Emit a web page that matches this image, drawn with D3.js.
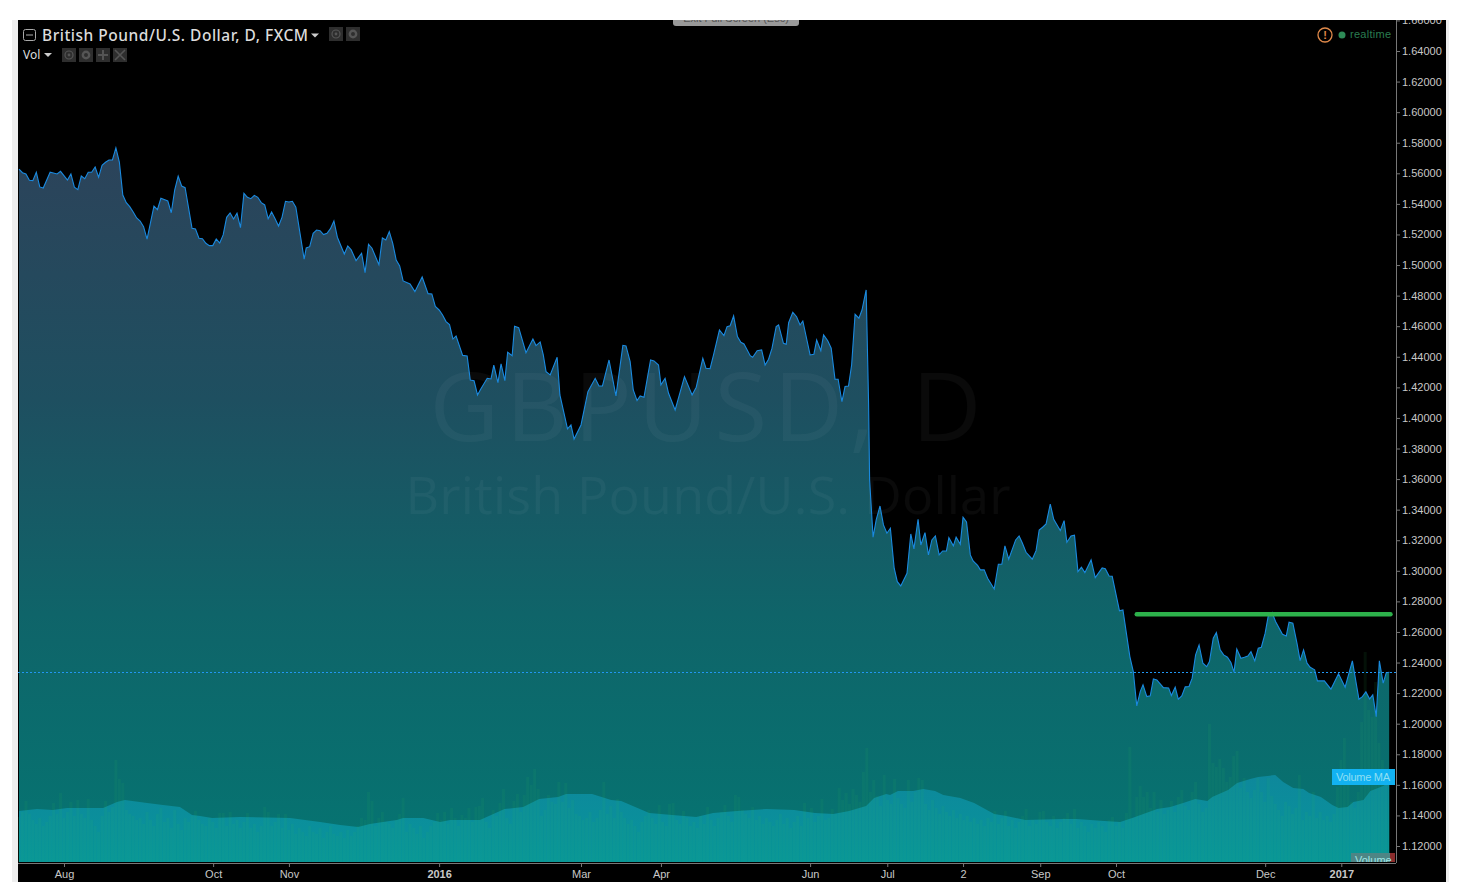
<!DOCTYPE html>
<html>
<head>
<meta charset="utf-8">
<script src="https://cdn.jsdelivr.net/npm/d3@7"></script>
<style>
  html, body { margin: 0; background: #fff; overflow: hidden; }
  svg { display: block; }
  .axis text { font-family: "Liberation Sans", Arial, sans-serif; font-size: 11px; fill: #c8c8c8; }
  .axis .tick line, .axis .domain { stroke: #777; }
  .header { font-family: "Noto Sans", sans-serif; fill: #dcdcdc; }
</style>
</head>
<body>
<svg width="1462" height="896"></svg>
<script>
const titleText = 'British Pound/U.S. Dollar, D, FXCM';
const watermarkText = 'GBPUSD, D';
const watermarkSubText = 'British Pound/U.S. Dollar';

// price tick labels on the right
const priceTicks = [1.12, 1.14, 1.16, 1.18, 1.20, 1.22, 1.24, 1.26, 1.28, 1.30, 1.32, 1.34, 1.36, 1.38,
  1.40, 1.42, 1.44, 1.46, 1.48, 1.50, 1.52, 1.54, 1.56, 1.58, 1.60, 1.62, 1.64, 1.66];

// time axis, position counted in daily bars
const timeTickBars = [13, 56.1, 78, 121.4, 162.4, 185.5, 228.6, 250.9, 272.8, 295.1, 317, 360.1, 382.1];
const timeTickLabels = ['Aug', 'Oct', 'Nov', '2016', 'Mar', 'Apr', 'Jun', 'Jul', '2', 'Sep', 'Oct', 'Dec', '2017'];
const boldTimeLabels = ['2016', '2017'];

// closes: bar position and price
const priceBars = [0, 1, 2, 3, 4, 5, 6, 7, 9, 11, 12, 14, 15, 16, 17, 18, 19, 20, 21, 22, 23, 24, 25, 26, 27, 28, 29, 30, 31, 32,
  33, 34, 35, 36, 37, 39, 40, 41, 43, 44, 45, 46, 47, 48, 50, 51, 52, 53, 54, 55, 56, 57, 58, 59, 60, 61, 62, 63, 64, 65,
  66, 67, 68, 69, 70, 71, 72, 73, 74, 75, 76, 77, 78, 79, 80, 82.4, 83, 84, 85, 86, 87, 88, 89, 90, 91, 92, 94, 95, 96, 97.4,
  99, 100, 101, 102, 104, 105, 106, 107, 108, 109, 110, 111, 113, 114.4, 116.5, 118.2, 119.3, 120.3, 121.4, 122.4, 123.4, 124.4, 125.4, 126.3, 128.2, 129.5, 130.4, 131.5, 132.5, 133.4,
  135.3, 136.4, 137.2, 138.4, 139.3, 140.4, 141.2, 142.5, 143.2, 144.4, 146.5, 148.5, 149.4, 150.6, 151.5, 152.3, 153.5, 155.5, 156.3, 158.5, 159.5, 160.4, 162.4, 164.4, 166.5, 167.6, 168.6, 170.5, 172.5, 174.5,
  175.4, 176.6, 177.5, 178.6, 179.5, 180.6, 182.5, 183.5, 184.8, 185.5, 186.7, 187.7, 189.6, 192.3, 194.5, 195.7, 197.6, 198.5, 199.7, 200.7, 202.4, 203.7, 204.6, 205.5, 206.5, 207.6, 208.6, 209.5, 211.3, 212,
  213.3, 214.6, 215.6, 216.6, 217.6, 218.8, 219.5, 220.9, 221.7, 222.4, 223.6, 224.7, 225.7, 226.5, 228.6, 229.7, 230.5, 231.7, 232.5, 233.7, 234.7, 235.8, 236.7, 237.8, 238.7, 239.7, 240.6, 241.6, 242.7, 243.6,
  244.8, 245.5, 245.8, 246.8, 247.7, 248.8, 249.8, 250.8, 251.8, 252.9, 253.8, 254.8, 256.6, 257.7, 258.6, 259.8, 260.6, 261.8, 262.8, 263.8, 264.8, 265.9, 266.9, 268, 268.7, 270, 270.8, 272, 272.8, 273.8,
  274.9, 275.7, 277, 277.8, 278.9, 279.9, 281.8, 283, 284, 284.9, 286, 288, 289, 289.9, 291, 292.8, 293.9, 294.8, 295.8, 296.8, 298, 299, 300.9, 302, 302.8, 304, 305, 306, 307, 308,
  309.8, 311, 313, 313.9, 315, 315.9, 318, 319, 321, 322, 323, 324, 324.8, 325.9, 326.9, 327.8, 328.8, 330.7, 332.2, 333, 334.1, 335, 336, 337, 338.1, 339, 340, 341, 342.1, 343.2,
  344, 345.1, 346, 347.1, 348.1, 349.2, 350.2, 351.1, 351.9, 353.1, 354.1, 355.1, 356, 357.1, 358.1, 359, 360.1, 361, 362.1, 363.1, 365.1, 366.2, 367, 368.1, 369.3, 370.2, 371.2, 372.2, 373.1, 374.4,
  375.2, 377.2, 379.1, 381.3, 383.2, 385.3, 387.2, 388.2, 389.2, 390.3, 391.2, 392.2, 393.1, 394.2, 395.1, 396];
const priceValues = [1.5628, 1.5604, 1.5596, 1.5554, 1.5552, 1.5607, 1.5511, 1.5504, 1.5607, 1.5596, 1.5613, 1.5556, 1.5596, 1.5509, 1.5493, 1.5582, 1.5565, 1.5607, 1.5607, 1.5641, 1.5574, 1.5652, 1.5672, 1.5687, 1.5687, 1.5766, 1.5674, 1.5458, 1.5408, 1.5382,
  1.5347, 1.5308, 1.5288, 1.5251, 1.5169, 1.5386, 1.5362, 1.5437, 1.5419, 1.5342, 1.5491, 1.5582, 1.5517, 1.5506, 1.5240, 1.5236, 1.5175, 1.5172, 1.5142, 1.5127, 1.5127, 1.5170, 1.5144, 1.5197, 1.5312, 1.5341, 1.5301, 1.5339, 1.5244, 1.5469,
  1.5443, 1.5434, 1.5456, 1.5443, 1.5408, 1.5393, 1.5303, 1.5347, 1.5303, 1.5255, 1.5312, 1.5417, 1.5412, 1.5417, 1.5378, 1.5038, 1.5112, 1.5120, 1.5208, 1.5229, 1.5225, 1.5199, 1.5208, 1.5238, 1.5288, 1.5182, 1.5072, 1.5125, 1.5099, 1.5029,
  1.5077, 1.4950, 1.5136, 1.5110, 1.5002, 1.5177, 1.5164, 1.5218, 1.5142, 1.5033, 1.4994, 1.4896, 1.4876, 1.4826, 1.4922, 1.4813, 1.4811, 1.4729, 1.4706, 1.4673, 1.4630, 1.4611, 1.4516, 1.4536, 1.4409, 1.4405, 1.4248, 1.4243, 1.4150, 1.4188,
  1.4259, 1.4255, 1.4346, 1.4231, 1.4353, 1.4244, 1.4430, 1.4407, 1.4600, 1.4590, 1.4427, 1.4516, 1.4473, 1.4497, 1.4412, 1.4303, 1.4281, 1.4397, 1.4150, 1.3928, 1.3954, 1.3862, 1.3954, 1.4172, 1.4259, 1.4209, 1.4209, 1.4379, 1.4144, 1.4475,
  1.4471, 1.4368, 1.4183, 1.4113, 1.4144, 1.4135, 1.4379, 1.4373, 1.4346, 1.4216, 1.4259, 1.4161, 1.4052, 1.4270, 1.4150, 1.4201, 1.4390, 1.4325, 1.4322, 1.4412, 1.4575, 1.4538, 1.4597, 1.4603, 1.4667, 1.4532, 1.4495, 1.4484, 1.4407, 1.4397,
  1.4440, 1.4445, 1.4346, 1.4384, 1.4456, 1.4597, 1.4608, 1.4488, 1.4482, 1.4623, 1.4691, 1.4662, 1.4608, 1.4634, 1.4412, 1.4417, 1.4510, 1.4440, 1.4543, 1.4505, 1.4456, 1.4253, 1.4253, 1.4106, 1.4205, 1.4209, 1.4346, 1.4678, 1.4652, 1.4706,
  1.4837, 1.4098, 1.3594, 1.3220, 1.3333, 1.3424, 1.3300, 1.3246, 1.3278, 1.3017, 1.2929, 1.2901, 1.2984, 1.3241, 1.3143, 1.3337, 1.3169, 1.3250, 1.3104, 1.3202, 1.3228, 1.3104, 1.3130, 1.3130, 1.3217, 1.3163, 1.3220, 1.3174, 1.3350, 1.3320,
  1.3104, 1.3065, 1.3036, 1.3006, 1.3006, 1.2951, 1.2881, 1.3043, 1.3043, 1.3163, 1.3076, 1.3202, 1.3228, 1.3184, 1.3121, 1.3076, 1.3132, 1.3267, 1.3285, 1.3307, 1.3437, 1.3337, 1.3263, 1.3328, 1.3187, 1.3228, 1.3233, 1.2995, 1.3023, 1.2988,
  1.3071, 1.2955, 1.3019, 1.3014, 1.2966, 1.2964, 1.2738, 1.2744, 1.2439, 1.2341, 1.2116, 1.2210, 1.2254, 1.2177, 1.2182, 1.2293, 1.2286, 1.2236, 1.2234, 1.2184, 1.2239, 1.2160, 1.2182, 1.2241, 1.2243, 1.2298, 1.2450, 1.2515, 1.2396, 1.2373,
  1.2406, 1.2559, 1.2596, 1.2483, 1.2450, 1.2435, 1.2400, 1.2337, 1.2489, 1.2428, 1.2435, 1.2443, 1.2471, 1.2411, 1.2494, 1.2500, 1.2592, 1.2705, 1.2727, 1.2668, 1.2585, 1.2574, 1.2664, 1.2658, 1.2526, 1.2413, 1.2483, 1.2396, 1.2369, 1.2352,
  1.2280, 1.2280, 1.2226, 1.2326, 1.2239, 1.2411, 1.2160, 1.2177, 1.2208, 1.2162, 1.2188, 1.2046, 1.2411, 1.2265, 1.2334, 1.2337];

const lastPrice = 1.2337;

// hand drawn resistance line
const trendBars = [323, 396.3];
const trendPrices = [1.2716, 1.2716];

// daily volume, one per bar, in chart units
const volumeValues = [45, 50, 61, 48, 42, 38, 44, 36, 40, 46, 59, 48, 69, 44, 50, 60, 46, 62, 48, 44,
  63, 42, 36, 30, 46, 61, 50, 55, 102, 83, 79, 52, 48, 46, 42, 44, 38, 50, 42, 36,
  48, 54, 40, 44, 34, 52, 38, 32, 44, 40, 46, 51, 42, 38, 36, 44, 40, 34, 49, 49,
  36, 50, 38, 42, 34, 40, 49, 34, 38, 30, 36, 55, 50, 36, 40, 48, 34, 48, 32, 38,
  28, 34, 30, 26, 36, 30, 28, 34, 24, 30, 36, 28, 26, 30, 24, 32, 26, 30, 36, 44,
  42, 70, 61, 36, 44, 50, 40, 38, 34, 42, 48, 64, 30, 38, 34, 28, 36, 24, 30, 36,
  40, 49, 42, 50, 38, 54, 44, 36, 47, 44, 54, 40, 55, 56, 64, 40, 34, 52, 46, 59,
  73, 44, 38, 61, 68, 50, 67, 85, 77, 93, 73, 46, 52, 67, 60, 58, 80, 60, 79, 54,
  62, 48, 46, 42, 44, 50, 40, 44, 52, 80, 48, 56, 44, 63, 50, 44, 38, 42, 36, 30,
  40, 46, 52, 44, 38, 57, 40, 36, 58, 59, 42, 38, 51, 44, 36, 40, 34, 46, 38, 55,
  42, 36, 44, 50, 57, 46, 40, 67, 65, 52, 48, 44, 55, 42, 46, 38, 44, 40, 36, 42,
  48, 38, 44, 34, 40, 46, 36, 59, 44, 54, 40, 46, 63, 42, 44, 53, 48, 74, 62, 69,
  58, 73, 67, 60, 90, 114, 70, 82, 66, 56, 87, 62, 58, 83, 64, 58, 54, 82, 60, 70,
  84, 82, 58, 52, 62, 54, 48, 56, 50, 46, 52, 44, 48, 42, 46, 40, 44, 38, 42, 36,
  44, 40, 51, 38, 44, 51, 36, 42, 34, 40, 46, 53, 36, 42, 38, 50, 51, 40, 36, 46,
  34, 40, 44, 49, 38, 53, 34, 40, 36, 30, 38, 34, 40, 36, 30, 42, 45, 36, 40, 34,
  49, 115, 44, 65, 76, 65, 70, 54, 70, 50, 62, 48, 52, 61, 50, 65, 72, 56, 52, 70,
  80, 58, 50, 54, 138, 99, 95, 103, 94, 80, 85, 106, 111, 74, 84, 70, 64, 72, 84, 70,
  60, 84, 66, 58, 52, 46, 60, 56, 48, 54, 87, 42, 50, 46, 70, 44, 50, 42, 46, 40,
  48, 75, 102, 124, 80, 60, 54, 70, 140, 210, 152, 145, 180, 119, 102, 90, 80];

// 'Volume MA' study, smooth so only its corners are read
const volumeMaBars = [0, 5.2, 9.8, 13.9, 24.3, 28.3, 30.6, 37, 41.6, 46.5, 50, 52.3, 55.8, 63.9, 78.3, 87, 92.8, 98, 101.4, 105.2,
  109.2, 111, 116.8, 121.7, 124.6, 133.2, 140.3, 145.7, 150.3, 155.8, 158.1, 165.6, 171.1, 174, 182.1, 188.7, 195.7, 200.6, 207.5, 215.9,
  224, 230, 235.3, 239.9, 244.8, 247.1, 250.6, 251.7, 254, 258.4, 261.3, 264.7, 267.1, 272, 276, 281.8, 285.3, 290.8, 302, 305.5,
  313.6, 318.2, 321.7, 324.9, 328.9, 332.7, 336.4, 339.9, 343.4, 344.8, 349.4, 352, 355.8, 358.1, 363, 365.3, 368.2, 371.1, 372.8, 376.2,
  379.5, 381.3, 383.9, 385.6, 388.5, 390.5, 394.2, 396];
const volumeMaValues = [51, 53, 52, 54, 54, 60, 62, 59, 57, 55, 47, 46, 44, 45, 44, 40, 37, 35, 38, 40,
  42, 44, 44, 40, 42, 42, 53, 55, 63, 65, 68, 68, 62, 61, 49, 47, 45, 49, 51, 53,
  52, 49, 48, 51, 56, 64, 68, 67, 71, 71, 73, 71, 67, 64, 59, 48, 46, 42, 43, 43,
  41, 40, 44, 48, 53, 55, 59, 63, 61, 65, 72, 79, 83, 85, 87, 80, 74, 73, 69, 65,
  57, 54, 55, 60, 62, 71, 76, 80];

const svg = d3.select('svg');

const plot = { left: 18, right: 1396, top: 20, bottom: 862, chartRight: 1446, chartBottom: 882 };

const xScale = d3.scaleLinear().domain([0, 396]).range([19, 1389.4]);
const yScale = d3.scaleLinear().domain([1.64, 1.12]).range([51, 846]);
const volumeScale = d3.scaleLinear().domain([0, 220]).range([plot.bottom, plot.bottom - 220]);

const defs = svg.append('defs');

defs.append('clipPath').attr('id', 'chart-clip').append('rect')
  .attr('x', plot.left).attr('y', plot.top)
  .attr('width', plot.chartRight - plot.left).attr('height', plot.chartBottom - plot.top);

defs.append('clipPath').attr('id', 'plot-clip').append('rect')
  .attr('x', plot.left).attr('y', plot.top)
  .attr('width', plot.right - plot.left).attr('height', plot.bottom - plot.top);

defs.append('clipPath').attr('id', 'series-clip').append('rect')
  .attr('x', plot.left).attr('y', plot.top)
  .attr('width', xScale(396) - plot.left).attr('height', plot.bottom - plot.top);

const areaGradient = defs.append('linearGradient')
  .attr('id', 'area-fill')
  .attr('gradientUnits', 'userSpaceOnUse')
  .attr('x1', 0).attr('x2', 0).attr('y1', 150).attr('y2', plot.bottom);
[[0, '#2c435a'], [0.35, '#1e4f60'], [0.65, '#0f6469'], [1, '#057572']].forEach(s => {
  areaGradient.append('stop').attr('offset', s[0]).attr('stop-color', s[1]);
});

const maGradient = defs.append('linearGradient')
  .attr('id', 'ma-fill')
  .attr('gradientUnits', 'userSpaceOnUse')
  .attr('x1', 0).attr('x2', 0).attr('y1', 775).attr('y2', plot.bottom);
[[0, '#0e8a9f'], [1, '#08989f']].forEach(s => {
  maGradient.append('stop').attr('offset', s[0]).attr('stop-color', s[1]);
});

// page furniture around the black chart
svg.append('rect').attr('x', 12).attr('y', plot.top).attr('width', 6).attr('height', plot.chartBottom - plot.top).attr('fill', '#eeeeee');
svg.append('rect').attr('x', plot.chartRight).attr('y', plot.top).attr('width', 3).attr('height', plot.chartBottom - plot.top).attr('fill', '#eeeeee');
svg.append('rect').attr('x', plot.left).attr('y', plot.top)
  .attr('width', plot.chartRight - plot.left).attr('height', plot.chartBottom - plot.top)
  .attr('fill', '#000');

const g = svg.append('g').attr('clip-path', 'url(#plot-clip)');
const seriesG = g.append('g').attr('clip-path', 'url(#series-clip)');

const priceData = priceBars.map((b, i) => ({ bar: b, price: priceValues[i] }));
const maData = volumeMaBars.map((b, i) => ({ bar: b, volume: volumeMaValues[i] }));

seriesG.append('path')
  .attr('d', d3.area()
    .x(d => xScale(d.bar))
    .y0(plot.bottom)
    .y1(d => yScale(d.price))(priceData))
  .attr('fill', 'url(#area-fill)');

seriesG.append('path')
  .attr('d', d3.area()
    .x(d => xScale(d.bar))
    .y0(plot.bottom)
    .y1(d => volumeScale(d.volume))(maData))
  .attr('fill', 'url(#ma-fill)')
  .attr('fill-opacity', 0.92);

seriesG.selectAll('rect.volume').data(volumeValues)
  .enter().append('rect')
    .attr('class', 'volume')
    .attr('x', (d, i) => xScale(i) - 1.5)
    .attr('width', 3)
    .attr('y', d => volumeScale(d))
    .attr('height', d => plot.bottom - volumeScale(d))
    .attr('fill', 'rgba(40,190,90,0.09)');

// watermark
g.append('text')
  .attr('x', 705.5).attr('y', 441)
  .attr('text-anchor', 'middle')
  .attr('font-family', '"Open Sans", sans-serif')
  .attr('font-size', 96)
  .attr('textLength', 552)
  .attr('fill', 'rgba(255,255,255,0.04)')
  .text(watermarkText);
g.append('text')
  .attr('x', 708).attr('y', 514)
  .attr('text-anchor', 'middle')
  .attr('font-family', '"Open Sans", sans-serif')
  .attr('font-size', 52)
  .attr('textLength', 605)
  .attr('fill', 'rgba(255,255,255,0.04)')
  .text(watermarkSubText);

g.append('path')
  .attr('d', d3.line()
    .x(d => xScale(d.bar))
    .y(d => yScale(d.price))(priceData))
  .attr('fill', 'none')
  .attr('stroke', '#1a8ae0')
  .attr('stroke-width', 1.1);

g.append('line')
  .attr('x1', plot.left).attr('x2', plot.right)
  .attr('y1', Math.round(yScale(lastPrice)) + 0.5).attr('y2', Math.round(yScale(lastPrice)) + 0.5)
  .attr('stroke', '#2196f3')
  .attr('stroke-dasharray', '2,2');

g.append('path')
  .attr('d', d3.line()
    .x(d => xScale(d))
    .y((d, i) => yScale(trendPrices[i]))(trendBars))
  .attr('fill', 'none')
  .attr('stroke', '#2db14b')
  .attr('stroke-width', 4.5)
  .attr('stroke-linecap', 'round');

// axes
const yAxis = d3.axisRight(yScale)
  .tickValues(priceTicks)
  .tickFormat(d3.format('.5f'))
  .tickSize(4)
  .tickPadding(2);

const xAxis = d3.axisBottom(xScale)
  .tickValues(timeTickBars)
  .tickFormat((d, i) => timeTickLabels[i])
  .tickSize(4)
  .tickPadding(3);

const axes = svg.append('g').attr('clip-path', 'url(#chart-clip)');

const yAxisG = axes.append('g').attr('class', 'axis')
  .attr('transform', `translate(${plot.right},0)`)
  .call(yAxis);
yAxisG.select('.domain').attr('d', `M0.5,${plot.top}V${plot.bottom + 1}`);

const xAxisG = axes.append('g').attr('class', 'axis')
  .attr('transform', `translate(0,${plot.bottom + 1})`)
  .call(xAxis);
xAxisG.select('.domain').attr('d', `M${plot.left},0.5H${plot.right}`);
xAxisG.selectAll('.tick text')
  .style('font-weight', d => boldTimeLabels.includes(timeTickLabels[timeTickBars.indexOf(d)]) ? 'bold' : null);

// study labels on the axis edge
svg.append('rect').attr('x', 1332).attr('y', 769).attr('width', 63).attr('height', 16).attr('fill', '#12b2f2');
svg.append('text').attr('x', 1336).attr('y', 781)
  .attr('font-family', '"Liberation Sans", Arial, sans-serif').attr('font-size', 11)
  .attr('textLength', 54)
  .attr('fill', '#8fdff2').text('Volume MA');

const volumeTag = svg.append('g');
defs.append('clipPath').attr('id', 'tag-clip').append('rect')
  .attr('x', 1351).attr('y', 853).attr('width', 46).attr('height', 9);
volumeTag.append('rect').attr('x', 1351).attr('y', 853).attr('width', 39).attr('height', 9).attr('fill', '#4e8585');
volumeTag.append('rect').attr('x', 1390).attr('y', 853).attr('width', 5).attr('height', 9).attr('fill', '#8a2c2c');
volumeTag.append('text').attr('x', 1355).attr('y', 864)
  .attr('clip-path', 'url(#tag-clip)')
  .attr('font-family', '"Liberation Sans", Arial, sans-serif').attr('font-size', 11)
  .attr('fill', '#9fe6e6').text('Volume');

// header texts and buttons
const header = svg.append('g');

header.append('rect').attr('x', 23.5).attr('y', 29.5).attr('width', 12).attr('height', 11).attr('rx', 2)
  .attr('fill', 'none').attr('stroke', '#aaa');
header.append('line').attr('x1', 26).attr('x2', 33).attr('y1', 35).attr('y2', 35).attr('stroke', '#aaa');

header.append('text').attr('class', 'header')
  .attr('x', 42).attr('y', 40.7)
  .attr('font-size', 15.5)
  .attr('font-weight', 500)
  .attr('textLength', 266)
  .text(titleText);
header.append('path').attr('d', 'M311,33.5h8l-4,4z').attr('fill', '#ccc');

header.append('text').attr('class', 'header')
  .attr('x', 23).attr('y', 59)
  .attr('font-size', 12)
  .text('Vol');
header.append('path').attr('d', 'M44,53h8l-4,4z').attr('fill', '#ccc');

const iconBoxes = [[329, 27], [346, 27], [62, 48], [79, 48], [96, 48], [113, 48]];
const iconGlyphs = ['eye', 'gear', 'eye', 'gear', 'plus', 'cross'];
iconBoxes.forEach((p, i) => {
  header.append('rect').attr('x', p[0]).attr('y', p[1]).attr('width', 14).attr('height', 14).attr('fill', '#2e2e2e');
  const cx = p[0] + 7, cy = p[1] + 7;
  if (iconGlyphs[i] === 'eye') {
    header.append('circle').attr('cx', cx).attr('cy', cy).attr('r', 4).attr('fill', 'none').attr('stroke', '#555').attr('stroke-width', 1.2);
    header.append('circle').attr('cx', cx).attr('cy', cy).attr('r', 1.4).attr('fill', '#555');
  } else if (iconGlyphs[i] === 'gear') {
    header.append('circle').attr('cx', cx).attr('cy', cy).attr('r', 3.2).attr('fill', 'none').attr('stroke', '#555').attr('stroke-width', 2.4);
  } else if (iconGlyphs[i] === 'plus') {
    header.append('path').attr('d', `M${cx - 5},${cy}h10M${cx},${cy - 5}v10`).attr('stroke', '#555').attr('stroke-width', 2);
  } else {
    header.append('path').attr('d', `M${cx - 5},${cy - 5}l10,10M${cx + 5},${cy - 5}l-10,10`).attr('stroke', '#555').attr('stroke-width', 1.6);
  }
});

// realtime status
header.append('circle').attr('cx', 1325).attr('cy', 35).attr('r', 7).attr('fill', 'none').attr('stroke', '#e0894a').attr('stroke-width', 1.3);
header.append('text').attr('x', 1325).attr('y', 39).attr('text-anchor', 'middle')
  .attr('font-family', '"Liberation Sans", Arial, sans-serif').attr('font-size', 11).attr('font-weight', 'bold')
  .attr('fill', '#e0894a').text('!');
header.append('circle').attr('cx', 1342).attr('cy', 35).attr('r', 3.5).attr('fill', '#2e8b57');
header.append('text').attr('x', 1350).attr('y', 38)
  .attr('font-family', '"Liberation Sans", Arial, sans-serif').attr('font-size', 11)
  .attr('textLength', 41)
  .attr('fill', '#2a7d50').text('realtime');

// browser's full screen hint, mostly off the top
defs.append('clipPath').attr('id', 'hint-clip').append('rect')
  .attr('x', 660).attr('y', plot.top).attr('width', 150).attr('height', 10);
const hint = svg.append('g').attr('clip-path', 'url(#hint-clip)');
hint.append('rect').attr('x', 673).attr('y', 5).attr('width', 126).attr('height', 21).attr('rx', 3).attr('fill', '#999');
hint.append('text').attr('x', 736).attr('y', 22).attr('text-anchor', 'middle')
  .attr('font-family', '"Liberation Sans", Arial, sans-serif').attr('font-size', 11)
  .attr('fill', '#555').text('Exit Full Screen (Esc)');
</script>
</body>
</html>
